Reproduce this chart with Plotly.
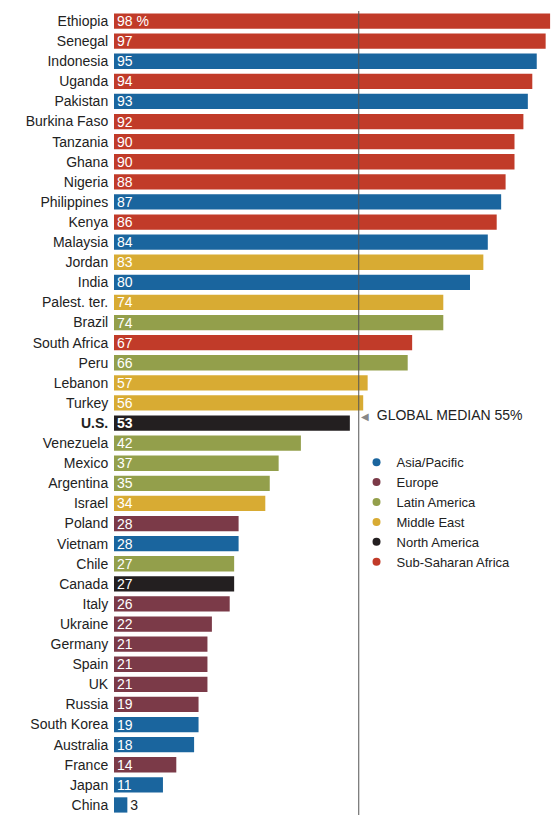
import plotly.graph_objects as go

# données
pays = ["Ethiopia", "Senegal", "Indonesia", "Uganda", "Pakistan", "Burkina Faso",
        "Tanzania", "Ghana", "Nigeria", "Philippines", "Kenya", "Malaysia", "Jordan",
        "India", "Palest. ter.", "Brazil", "South Africa", "Peru", "Lebanon", "Turkey",
        "U.S.", "Venezuela", "Mexico", "Argentina", "Israel", "Poland", "Vietnam",
        "Chile", "Canada", "Italy", "Ukraine", "Germany", "Spain", "UK", "Russia",
        "South Korea", "Australia", "France", "Japan", "China"]
valeurs = [98, 97, 95, 94, 93, 92, 90, 90, 88, 87, 86, 84, 83, 80, 74, 74, 67, 66,
           57, 56, 53, 42, 37, 35, 34, 28, 28, 27, 27, 26, 22, 21, 21, 21, 19, 19,
           18, 14, 11, 3]
regions = ["SSA", "SSA", "AP", "SSA", "AP", "SSA", "SSA", "SSA", "SSA", "AP", "SSA",
           "AP", "ME", "AP", "ME", "LA", "SSA", "LA", "ME", "ME", "NA", "LA", "LA",
           "LA", "ME", "EU", "AP", "LA", "NA", "EU", "EU", "EU", "EU", "EU", "EU",
           "AP", "AP", "EU", "AP", "AP"]
mediane = 55

noms_regions = {"AP": "Asia/Pacific", "EU": "Europe", "LA": "Latin America",
                "ME": "Middle East", "NA": "North America", "SSA": "Sub-Saharan Africa"}
couleurs = {"AP": "#1a659e", "EU": "#7b3a48", "LA": "#939f4b",
            "ME": "#d8ab33", "NA": "#231f20", "SSA": "#c13b29"}

police = "Liberation Sans Narrow, Arial Narrow, Liberation Sans, sans-serif"

# textes des valeurs
textes = []
for p, v in zip(pays, valeurs):
    t = str(v) + (" %" if p == "Ethiopia" else "")
    if p == "U.S.":
        t = "<b>" + t + "</b>"
    textes.append(t)
positions = ["outside" if v < 5 else "inside" for v in valeurs]
couleurs_txt = ["#222222" if v < 5 else "white" for v in valeurs]
etiquettes = ["<b>" + p + "</b>" if p == "U.S." else p for p in pays]

fig = go.Figure()
fig.add_trace(go.Bar(
    x=valeurs, y=pays, orientation="h",
    marker=dict(color=[couleurs[r] for r in regions], line=dict(width=0)),
    width=0.76,
    text=textes, textposition=positions, insidetextanchor="start",
    textangle=0,
    textfont=dict(color=couleurs_txt, size=14, family=police),
    constraintext="none", cliponaxis=False,
    showlegend=False, hoverinfo="x+y",
))

# légende : points par région
for code in ["AP", "EU", "LA", "ME", "NA", "SSA"]:
    fig.add_trace(go.Scatter(
        x=[None], y=[None], mode="markers", name=noms_regions[code],
        marker=dict(color=couleurs[code], size=8, symbol="circle"),
    ))

# ligne de la médiane mondiale
fig.add_shape(type="line", x0=mediane, x1=mediane, y0=0, y1=1, yref="paper",
              line=dict(color="#555555", width=1))
fig.add_annotation(x=mediane, y=19.6, xref="x", yref="y", xanchor="left",
                   xshift=0, showarrow=False,
                   text="<span style='color:#888888;font-size:10px'>◀</span>&nbsp; GLOBAL MEDIAN 55%",
                   font=dict(size=14, color="#222222", family=police))

# la page ajoute 8 px de marge autour du graphique
fig.update_layout(
    width=560, height=832,
    margin=dict(l=106, r=9, t=3, b=25, autoexpand=False),
    plot_bgcolor="white", paper_bgcolor="white",
    bargap=0.24,
    font=dict(family=police, size=14, color="#222222"),
    legend=dict(x=0.545, y=0.4574, xanchor="left", yanchor="top",
                font=dict(size=13, color="#222222", family=police),
                itemwidth=30, tracegroupgap=0, bgcolor="rgba(0,0,0,0)"),
)
fig.update_xaxes(range=[0, 100], visible=False, fixedrange=True)
fig.update_yaxes(type="category", categoryorder="array", categoryarray=pays,
                 autorange="reversed", tickvals=pays, ticktext=etiquettes,
                 showgrid=False, zeroline=False, showline=False, automargin=False,
                 ticks="outside", ticklen=2, tickcolor="rgba(0,0,0,0)",
                 tickfont=dict(size=14, family=police, color="#222222"))

fig.write_html("out.html")
